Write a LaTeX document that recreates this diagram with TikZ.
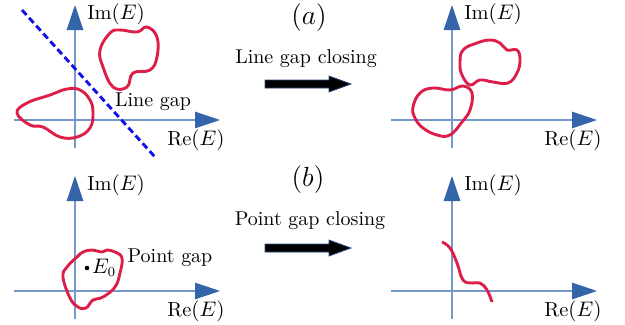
\documentclass[tikz,border=0pt]{standalone}
\usepackage{tikz}
\usetikzlibrary{positioning, arrows.meta}
\definecolor{axisBlue}{HTML}{3465A8}
\definecolor{axisLine}{HTML}{7598CA}
\definecolor{loopRed}{HTML}{DC1E48}
\definecolor{gapBlue}{HTML}{1010E8}
\definecolor{arrowEdge}{HTML}{2A4A80}
\tikzset{
  axisline/.style={draw=axisLine, line width=0.6pt,
    -{Triangle[length=13pt, width=8.6pt, color=axisBlue]}},
  axislabel/.style={inner sep=0pt, font=\fontsize{10.6}{12}\selectfont},
  spectrum/.style={draw=loopRed, line width=1.5pt},
  gapline/.style={draw=gapBlue, line width=1.5pt, dash pattern=on 3.5pt off 2pt},
  bigarrow/.style={fill=black, draw=arrowEdge, line width=0.4pt},
  panellabel/.style={font=\Large},
  steplabel/.style={font=\fontsize{10.4}{12}\selectfont},
  dot/.style={circle, fill=black, inner sep=0pt, minimum size=2.4pt},
}

\begin{document}
\begin{tikzpicture}[x=0.52pt, y=-0.52pt]
    \useasboundingbox (0,0) rectangle (625,325);
    % ---------------- axes ----------------
    \foreach \ox/\oy/\i in {75/120/1, 452/120/2, 75/291/3, 452/291/4} {
      \draw[axisline] (\ox-61,\oy) -- (\ox+145,\oy);
      \draw[axisline] (\ox,\oy+28) -- (\ox,\oy-115);
      \node[axislabel, anchor=west] (im\i) at (\ox+12,\oy-106) {Im$(E)$};
      \node[axislabel, anchor=east] (re\i) at (\ox+150,\oy+20) {Re$(E)$};
    }
    % ---------------- Panel (a): line gap ----------------
    \draw[gapline] (22,10) -- (155,157);
    \draw[spectrum] plot[smooth cycle, tension=0.7] coordinates
      {(100,50) (110,33) (120,30) (137,32) (147,27) (157,37) (157,57)
       (150,70) (133,73) (127,87) (113,87) (103,67)};
    \draw[spectrum] plot[smooth cycle, tension=0.7] coordinates
      {(17,113) (27,103) (50,95) (67,89) (80,90) (90,100) (93,113)
       (90,128) (77,137) (60,137) (43,127) (30,125)};
    \node[steplabel] (linegap) at (153,102) {Line gap};
    \node[panellabel] (pa) at (309,18) {$(a)$};
    \node[steplabel] (closeA) at (306,59) {Line gap closing};
    \draw[bigarrow] (265,80) -- (329,80) -- (329,76) -- (351,84)
      -- (329,92) -- (329,88) -- (265,88) -- cycle;
    % closed gap
    \draw[spectrum] plot[smooth cycle, tension=0.7] coordinates
      {(462,75) (460,63) (463,50) (477,43) (490,40) (500,43) (507,50)
       (517,50) (520,60) (517,73) (508,83) (493,82) (480,80) (470,85)};
    \draw[spectrum] plot[smooth cycle, tension=0.7] coordinates
      {(413,107) (420,93) (433,88) (450,90) (463,86) (472,93) (470,110)
       (462,122) (450,135) (437,135) (423,128) (415,118)};
    % ---------------- Panel (b): point gap ----------------
    \draw[spectrum] plot[smooth cycle, tension=0.7] coordinates
      {(63,277) (67,267) (77,257) (83,252) (92,250) (102,252) (107,250)
       (115,252) (122,258) (120,273) (115,287) (103,297) (93,300)
       (86,308) (78,307) (70,298)};
    \node[dot] (E0) at (87,268) {};
    \node[right=1pt of E0, inner sep=0pt, font=\fontsize{10.6}{12}\selectfont] (E0lab) {$E_0$};
    \node[steplabel] (pointgap) at (170,258) {Point gap};
    \node[panellabel] (pb) at (308,180) {$(b)$};
    \node[steplabel] (closeB) at (310,221) {Point gap closing};
    \draw[bigarrow] (265,244) -- (329,244) -- (329,240) -- (351,248)
      -- (329,256) -- (329,252) -- (265,252) -- cycle;
    % closed point gap
    \draw[spectrum] plot[smooth, tension=0.7] coordinates
      {(442,242) (450,248) (457,263) (463,280) (472,283) (480,283)
       (487,290) (492,302)};
\end{tikzpicture}
\end{document}
